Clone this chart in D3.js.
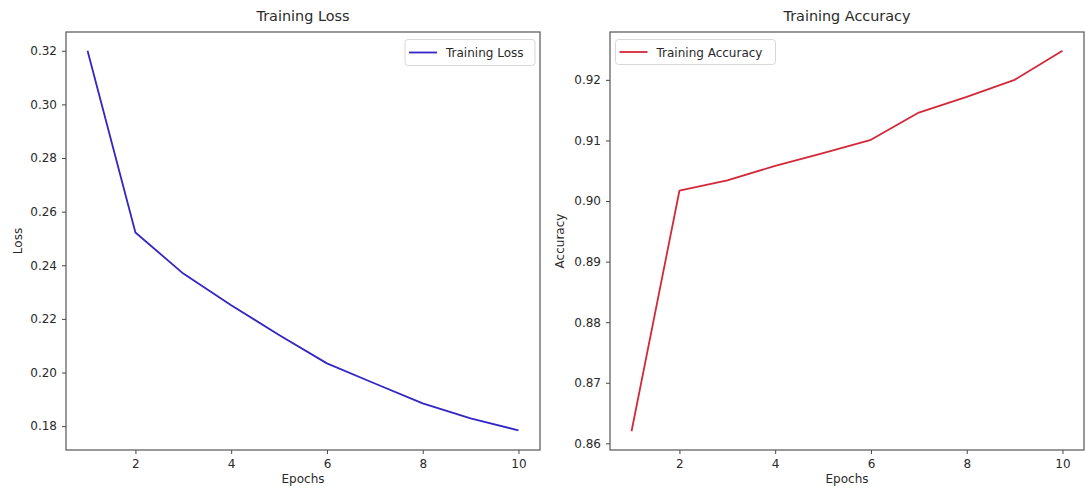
<!DOCTYPE html>
<html>
<head>
<meta charset="utf-8">
<script src="https://cdn.jsdelivr.net/npm/d3@7"></script>
<style>
  html, body { margin: 0; padding: 0; background: #fff; }
  svg { display: block; }
  text { font-family: "DejaVu Sans", sans-serif; fill: #2a2a2a; }
</style>
</head>
<body>
<svg id="chart" width="1086" height="497"></svg>
<script>
const epochs = [1, 2, 3, 4, 5, 6, 7, 8, 9, 10];
const lossValues = [0.320, 0.2522, 0.2369, 0.2251, 0.2140, 0.2034, 0.1959, 0.1885, 0.1829, 0.1784];
const accuracyValues = [0.8620, 0.9017, 0.9034, 0.9058, 0.9079, 0.9101, 0.9146, 0.9172, 0.9200, 0.9248];
const xTicks = [2, 4, 6, 8, 10];
const lossTicks = [0.18, 0.20, 0.22, 0.24, 0.26, 0.28, 0.30, 0.32];
const accTicks = [0.86, 0.87, 0.88, 0.89, 0.90, 0.91, 0.92];

const svg = d3.select("#chart");

function panel(cfg) {
  const g = svg.append("g");
  const x = d3.scaleLinear().domain([0.55, 10.45]).range([cfg.left, cfg.right]);
  const y = d3.scaleLinear().domain(cfg.yDomain).range([cfg.bottom, cfg.top]);

  // axes
  const xAxis = d3.axisBottom(x).tickValues(xTicks).tickFormat(d3.format("d")).tickSize(4).tickPadding(5);
  const yAxis = d3.axisLeft(y).tickValues(cfg.yTicks).tickFormat(d3.format(cfg.fmt)).tickSize(4).tickPadding(5);
  const gx = g.append("g").attr("transform", `translate(0,${cfg.bottom})`).call(xAxis);
  const gy = g.append("g").attr("transform", `translate(${cfg.left},0)`).call(yAxis);
  [gx, gy].forEach(a => {
    a.select(".domain").remove();
    a.selectAll(".tick line").attr("stroke", "#444").attr("stroke-width", 1);
    a.selectAll(".tick text").attr("font-size", 12).style("font-family", "DejaVu Sans, sans-serif").attr("fill", "#2a2a2a");
  });

  // line
  const line = d3.line().x((d, i) => x(epochs[i])).y(d => y(d));
  g.append("path").datum(cfg.values)
    .attr("d", line).attr("fill", "none")
    .attr("stroke", cfg.color).attr("stroke-width", 1.8)
    .attr("stroke-linejoin", "round");

  // frame
  g.append("rect").attr("x", cfg.left).attr("y", cfg.top)
    .attr("width", cfg.right - cfg.left).attr("height", cfg.bottom - cfg.top)
    .attr("fill", "none").attr("stroke", "#555").attr("stroke-width", 1.2);

  // title
  g.append("text").attr("x", (cfg.left + cfg.right) / 2).attr("y", 21)
    .attr("text-anchor", "middle").attr("font-size", 14.4).text(cfg.title);
  // x label
  g.append("text").attr("x", (cfg.left + cfg.right) / 2).attr("y", 483)
    .attr("text-anchor", "middle").attr("font-size", 12).text("Epochs");
  // y label
  g.append("text").attr("transform", `translate(${cfg.ylabelX},${(cfg.top + cfg.bottom) / 2}) rotate(-90)`)
    .attr("text-anchor", "middle").attr("font-size", 12).text(cfg.ylabel);

  // legend
  const L = cfg.legend;
  g.append("rect").attr("x", L.x).attr("y", L.y).attr("width", L.w).attr("height", L.h)
    .attr("rx", 3).attr("fill", "#fff").attr("stroke", "#d8d8d8").attr("stroke-width", 1);
  g.append("line").attr("x1", L.x + 4).attr("x2", L.x + 32)
    .attr("y1", L.y + L.h / 2).attr("y2", L.y + L.h / 2)
    .attr("stroke", cfg.color).attr("stroke-width", 1.8);
  g.append("text").attr("x", L.x + 41).attr("y", L.y + L.h / 2 + 4.5)
    .attr("font-size", 12).text(cfg.title);
}

panel({
  left: 66, right: 540, top: 32, bottom: 450,
  yDomain: [0.1711, 0.3270], yTicks: lossTicks, fmt: ".2f",
  values: lossValues, color: "#3326c4",
  title: "Training Loss", ylabel: "Loss", ylabelX: 22,
  legend: { x: 405, y: 39.5, w: 130, h: 26 }
});

panel({
  left: 610, right: 1084, top: 32, bottom: 450,
  yDomain: [0.8589, 0.9279], yTicks: accTicks, fmt: ".2f",
  values: accuracyValues, color: "#d3283a",
  title: "Training Accuracy", ylabel: "Accuracy", ylabelX: 564,
  legend: { x: 615.5, y: 39.5, w: 160, h: 25 }
});
</script>
</body>
</html>
